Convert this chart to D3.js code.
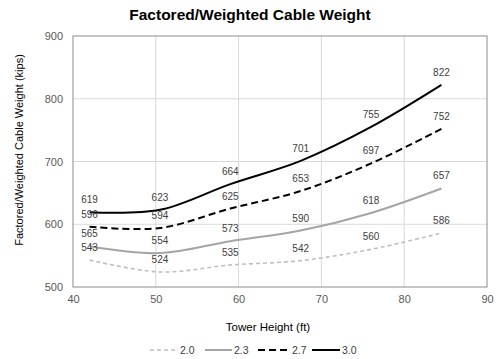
<!DOCTYPE html>
<html><head><meta charset="utf-8">
<script src="https://cdn.jsdelivr.net/npm/d3@7"></script>
<style>body{margin:0;background:#fff}svg{display:block}</style>
</head><body><svg id="c" width="500" height="359"></svg>
<script>
const towerHeights = [42, 50.5, 59, 67.5, 76, 84.5];
const seriesNames = ["2.0", "2.3", "2.7", "3.0"];
const s20 = [543, 524, 535, 542, 560, 586];
const s23 = [565, 554, 573, 590, 618, 657];
const s27 = [596, 594, 625, 653, 697, 752];
const s30 = [619, 623, 664, 701, 755, 822];
const xTicks = [40, 50, 60, 70, 80, 90];
const yTicks = [500, 600, 700, 800, 900];

const styles = {
  "2.0": {color: "#bfbfbf", width: 1.6, dash: "4,3"},
  "2.3": {color: "#a5a5a5", width: 2, dash: null},
  "2.7": {color: "#000000", width: 2, dash: "7,4"},
  "3.0": {color: "#000000", width: 2, dash: null}
};
const seriesVals = [s20, s23, s27, s30];

const svg = d3.select("#c");
const L = 73, R = 487, T = 36, B = 287;
const x = d3.scaleLinear().domain([40, 90]).range([L, R]);
const y = d3.scaleLinear().domain([500, 900]).range([B, T]);
const font = "'Liberation Sans', Arial, sans-serif";

svg.append("g").selectAll("line.v").data(xTicks.slice(1, -1)).join("line")
  .attr("x1", d => x(d)).attr("x2", d => x(d)).attr("y1", T).attr("y2", B)
  .attr("stroke", "#d9d9d9").attr("stroke-width", 1);
svg.append("g").selectAll("line.h").data(yTicks.slice(1, -1)).join("line")
  .attr("x1", L).attr("x2", R).attr("y1", d => y(d)).attr("y2", d => y(d))
  .attr("stroke", "#d9d9d9").attr("stroke-width", 1);
svg.append("rect").attr("x", L).attr("y", T).attr("width", R - L).attr("height", B - T)
  .attr("fill", "none").attr("stroke", "#8c8c8c").attr("stroke-width", 1);

const xAxis = svg.append("g").attr("transform", `translate(0,${B})`)
  .call(d3.axisBottom(x).tickValues(xTicks).tickSize(0).tickPadding(8));
xAxis.select(".domain").remove();
xAxis.selectAll("text").attr("font-family", font).attr("font-size", 11).attr("fill", "#595959");
const yAxis = svg.append("g").attr("transform", `translate(${L},0)`)
  .call(d3.axisLeft(y).tickValues(yTicks).tickSize(0).tickPadding(10));
yAxis.select(".domain").remove();
yAxis.selectAll("text").attr("font-family", font).attr("font-size", 11).attr("fill", "#595959");

const line = d3.line().x((d, i) => x(towerHeights[i])).y(d => y(d)).curve(d3.curveCardinal.tension(0));
seriesNames.forEach((n, k) => {
  const st = styles[n];
  svg.append("path").datum(seriesVals[k]).attr("d", line)
    .attr("fill", "none").attr("stroke", st.color).attr("stroke-width", st.width)
    .attr("stroke-dasharray", st.dash);
});
seriesNames.forEach((n, k) => {
  svg.append("g").selectAll("text").data(seriesVals[k]).join("text")
    .attr("x", (d, i) => x(towerHeights[i])).attr("y", d => y(d) - 9)
    .attr("text-anchor", "middle").attr("font-family", font).attr("font-size", 10)
    .attr("fill", "#404040").text(d => d);
});

svg.append("text").attr("x", 250).attr("y", 20).attr("text-anchor", "middle")
  .attr("font-family", font).attr("font-size", 15.5).attr("font-weight", "bold")
  .attr("fill", "#000").text("Factored/Weighted Cable Weight");
svg.append("text").attr("x", 268).attr("y", 331).attr("text-anchor", "middle")
  .attr("font-family", font).attr("font-size", 11.5).attr("fill", "#000").text("Tower Height (ft)");
svg.append("text").attr("transform", `translate(23,150) rotate(-90)`)
  .attr("text-anchor", "middle").attr("font-family", font).attr("font-size", 11)
  .attr("fill", "#000").text("Factored/Weighted Cable Weight (kips)");

const legX = [150, 205, 258, 312], legLen = [28, 27, 32, 28];
seriesNames.forEach((n, k) => {
  const st = styles[n];
  const g = svg.append("g");
  g.append("line").attr("x1", legX[k]).attr("x2", legX[k] + legLen[k]).attr("y1", 350).attr("y2", 350)
    .attr("stroke", st.color).attr("stroke-width", st.width).attr("stroke-dasharray", st.dash);
  g.append("text").attr("x", legX[k] + legLen[k] + 2).attr("y", 354).attr("font-family", font)
    .attr("font-size", 10.5).attr("fill", "#404040").text(n);
});
</script></body></html>
